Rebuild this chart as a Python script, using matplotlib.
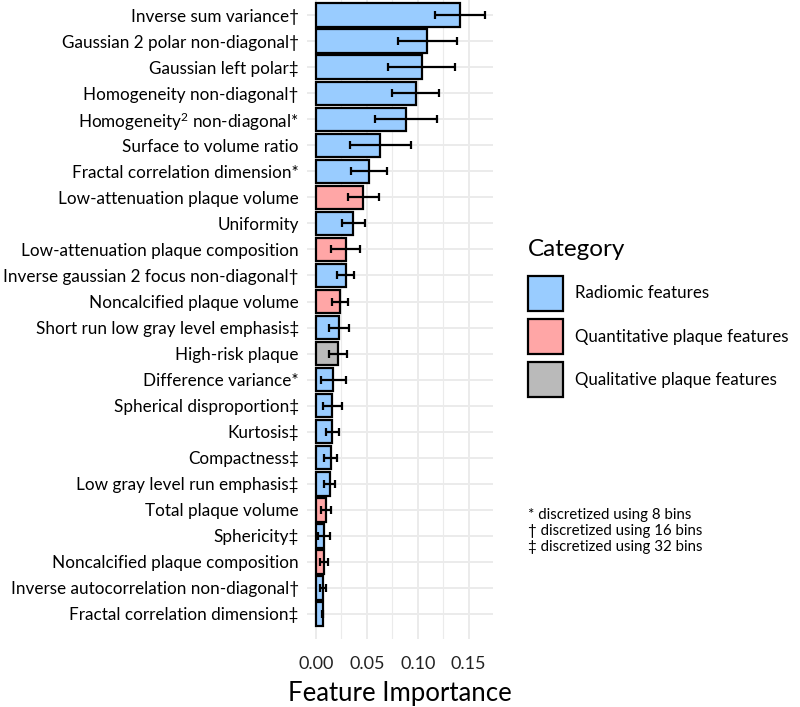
import numpy as np
import matplotlib
matplotlib.use("Agg")
import matplotlib.pyplot as plt
from matplotlib.patches import Patch

plt.rcParams['font.family'] = ['Lato', 'DejaVu Sans']
plt.rcParams['mathtext.default'] = 'regular'

# Features, top to bottom
features = [
    "Inverse sum variance\u2020",
    "Gaussian 2 polar non-diagonal\u2020",
    "Gaussian left polar\u2021",
    "Homogeneity non-diagonal\u2020",
    "Homogeneity$^2$ non-diagonal*",
    "Surface to volume ratio",
    "Fractal correlation dimension*",
    "Low-attenuation plaque volume",
    "Uniformity",
    "Low-attenuation plaque composition",
    "Inverse gaussian 2 focus non-diagonal\u2020",
    "Noncalcified plaque volume",
    "Short run low gray level emphasis\u2021",
    "High-risk plaque",
    "Difference variance*",
    "Spherical disproportion\u2021",
    "Kurtosis\u2021",
    "Compactness\u2021",
    "Low gray level run emphasis\u2021",
    "Total plaque volume",
    "Sphericity\u2021",
    "Noncalcified plaque composition",
    "Inverse autocorrelation non-diagonal\u2020",
    "Fractal correlation dimension\u2021",
]
importance = [0.1415, 0.1092, 0.1040, 0.0978, 0.0887, 0.0632, 0.0521, 0.0466,
              0.0368, 0.0292, 0.0292, 0.0240, 0.0224, 0.0220, 0.0170, 0.0163,
              0.0162, 0.0145, 0.0134, 0.0100, 0.0080, 0.0080, 0.0070, 0.0066]
err = [0.0243, 0.0290, 0.0328, 0.0232, 0.0302, 0.0297, 0.0175, 0.0155,
       0.0112, 0.0140, 0.0082, 0.0077, 0.0100, 0.0090, 0.0122, 0.0092,
       0.0066, 0.0063, 0.0055, 0.0045, 0.0056, 0.0041, 0.0028, 0.0008]
category = ["R", "R", "R", "R", "R", "R", "R", "Q", "R", "Q", "R", "Q", "R", "L",
            "R", "R", "R", "R", "R", "Q", "R", "Q", "R", "R"]

cat_names = {"R": "Radiomic features", "Q": "Quantitative plaque features",
             "L": "Qualitative plaque features"}
cat_colors = {"R": "#99ccff", "Q": "#ffa6a6", "L": "#bababa"}

fig = plt.figure(figsize=(8, 7.07), dpi=100)
ax = fig.add_axes([0.384, 0.0962, 0.2325, 0.9038])

y = np.arange(len(features))
ax.barh(y, importance, height=0.9, color=[cat_colors[c] for c in category],
        edgecolor="black", linewidth=1.6, zorder=2)
ax.errorbar(importance, y, xerr=err, fmt="none", ecolor="black",
            elinewidth=1.6, capsize=3, capthick=1.6, zorder=3)

ax.set_ylim(len(features) - 0.04, -0.58)
ax.set_xlim(-0.0085, 0.174)
ax.set_yticks(y)
ax.set_yticklabels(features, fontsize=12.3)
ax.set_xticks([0, 0.05, 0.10, 0.15])
ax.set_xticklabels(["0.00", "0.05", "0.10", "0.15"], fontsize=13)
ax.set_xticks([0.025, 0.075, 0.125], minor=True)
ax.tick_params(axis="y", which="both", length=0, pad=6)
ax.tick_params(axis="x", which="both", length=0, pad=12, colors="#222222")
ax.grid(True, which="major", color="#ebebeb", linewidth=1.4, zorder=0)
ax.grid(True, which="minor", axis="x", color="#ebebeb", linewidth=0.8, zorder=0)
ax.set_axisbelow(True)
for s in ax.spines.values():
    s.set_visible(False)
ax.set_xlabel("Feature Importance", fontsize=18.5, labelpad=7)

# legend (title placed separately to match spacing)
handles = [Patch(facecolor=cat_colors[k], edgecolor="black", linewidth=1.6,
                 label=cat_names[k]) for k in ["R", "Q", "L"]]
fig.legend(handles=handles, loc="upper left",
           bbox_to_anchor=(528 / 800, 1 - 276 / 707), frameon=False,
           fontsize=12.2, handlelength=2.05, handleheight=2.78,
           labelspacing=0.5, handletextpad=0.7, borderpad=0, borderaxespad=0)
fig.text(528 / 800, 1 - 249 / 707, "Category", fontsize=17.5, va="center")

notes = ["* discretized using 8 bins", "\u2020 discretized using 16 bins",
         "\u2021 discretized using 32 bins"]
for i, t in enumerate(notes):
    fig.text(528 / 800, 1 - (515 + 16 * i) / 707, t, fontsize=10.8, va="center")

fig.savefig("out.png", dpi=100)
